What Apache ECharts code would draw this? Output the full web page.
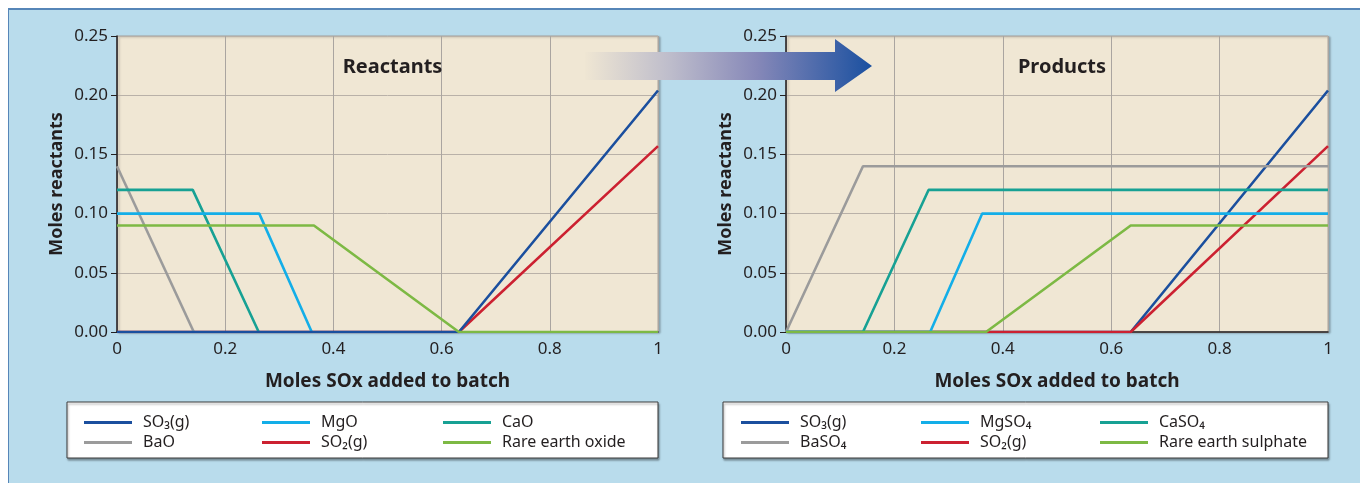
<!DOCTYPE html>
<html>
<head>
<meta charset="utf-8">
<script src="https://cdn.jsdelivr.net/npm/echarts@6/dist/echarts.min.js"></script>
<style>
html,body{margin:0;padding:0;background:#fff;}
#panel{position:absolute;left:8px;top:8px;width:1352px;height:475px;background:#b9dcec;border-top:2px solid #5686b8;border-left:1px solid #5686b8;box-sizing:border-box;}
#chart{position:absolute;left:0;top:0;width:1360px;height:483px;}
</style>
</head>
<body>
<div id="panel"></div>
<div id="chart"></div>
<script>
// ---- data ----
const xTicks = [0, 0.2, 0.4, 0.6, 0.8, 1];
const yTicks = ['0.00', '0.05', '0.10', '0.15', '0.20', '0.25'];

// Reactants (x = moles SOx added, y = moles)
const so3Reactants = [[0, 0], [0.632, 0], [1, 0.204]];
const so2Reactants = [[0, 0], [0.632, 0], [1, 0.157]];
const baoReactants = [[0, 0.140], [0.142, 0]];
const caoReactants = [[0, 0.120], [0.140, 0.120], [0.262, 0]];
const mgoReactants = [[0, 0.100], [0.263, 0.100], [0.360, 0]];
const reoReactants = [[0, 0.090], [0.364, 0.090], [0.632, 0], [1, 0]];

// Products
const so3Products = [[0, 0], [0.636, 0], [1, 0.204]];
const so2Products = [[0, 0], [0.636, 0], [1, 0.157]];
const baso4Products = [[0, 0], [0.142, 0.140], [1, 0.140]];
const caso4Products = [[0, 0], [0.142, 0], [0.263, 0.120], [1, 0.120]];
const mgso4Products = [[0, 0], [0.266, 0], [0.362, 0.100], [1, 0.100]];
const reso4Products = [[0, 0], [0.369, 0], [0.636, 0.090], [1, 0.090]];

const colors = {
  so3: '#1b4f9e', so2: '#cc2131', ba: '#9b9b9b', ca: '#17a194', mg: '#13aee8', re: '#7db944'
};

const FONT = 'Noto Sans';
const TXT = '#231f20';

function xAxis(gi) {
  return {
    type: 'value', gridIndex: gi, min: 0, max: 1, interval: 0.2,
    name: 'Moles SOx added to batch', nameLocation: 'middle', nameGap: 40,
    nameTextStyle: {fontFamily: FONT, fontWeight: 'bold', fontSize: 19, color: TXT},
    axisLine: {show: true, onZero: false, lineStyle: {color: '#231f20', width: 1.5}},
    axisTick: {show: false},
    axisLabel: {fontFamily: FONT, fontSize: 17, color: TXT, margin: 9},
    splitLine: {show: true, lineStyle: {color: '#aaa5a0', width: 1}}
  };
}
function yAxis(gi) {
  return {
    type: 'value', gridIndex: gi, min: 0, max: 0.25, interval: 0.05,
    name: 'Moles reactants', nameLocation: 'middle', nameGap: 51,
    nameTextStyle: {fontFamily: FONT, fontWeight: 'bold', fontSize: 18, color: TXT},
    axisLine: {show: true, lineStyle: {color: '#231f20', width: 1.5}},
    axisTick: {show: true, length: 6, lineStyle: {color: '#231f20'}},
    axisLabel: {fontFamily: FONT, fontSize: 17, color: TXT, margin: 9,
      formatter: v => yTicks[Math.round(v / 0.05)]},
    splitLine: {show: true, lineStyle: {color: '#b9b1a8', width: 1}}
  };
}
function line(name, data, color, gi) {
  return {
    type: 'line', name, data, xAxisIndex: gi, yAxisIndex: gi,
    showSymbol: false, symbol: 'none', animation: false,
    lineStyle: {color, width: 2.6}, itemStyle: {color}
  };
}
function legend(left, names) {
  return {
    orient: 'vertical', left, top: 414, padding: 0, itemWidth: 48, itemHeight: 3, itemGap: 3,
    icon: 'rect', z: 10, selectedMode: false,
    textStyle: {fontFamily: FONT, fontSize: 16, color: TXT, lineHeight: 17, padding: [0, 0, 0, 6]},
    data: names
  };
}

const chart = echarts.init(document.getElementById('chart'), null, {renderer: 'canvas'});
const gridStyle = {show: true, backgroundColor: '#f0e7d4', borderColor: '#a9a49e', borderWidth: 1,
  shadowColor: 'rgba(0,0,0,0.25)', shadowBlur: 2, shadowOffsetX: 2, shadowOffsetY: 1};

chart.setOption({
  animation: false,
  textStyle: {fontFamily: FONT},
  title: [
    {text: 'Reactants', left: 387.5, top: 52, textAlign: 'center',
      textStyle: {fontFamily: FONT, fontWeight: 'bold', fontSize: 20, color: TXT}},
    {text: 'Products', left: 1057, top: 52, textAlign: 'center',
      textStyle: {fontFamily: FONT, fontWeight: 'bold', fontSize: 20, color: TXT}}
  ],
  grid: [
    Object.assign({left: 117, top: 36, width: 541, height: 296}, gridStyle),
    Object.assign({left: 786, top: 36, width: 542, height: 296}, gridStyle)
  ],
  xAxis: [xAxis(0), xAxis(1)],
  yAxis: [yAxis(0), yAxis(1)],
  legend: [
    legend(84, ['SO₃(g)', 'BaO']),
    legend(262, ['MgO', 'SO₂(g)']),
    legend(443, ['CaO', 'Rare earth oxide']),
    legend(741, ['SO₃(g)', 'BaSO₄']),
    legend(921, ['MgSO₄', 'SO₂(g)']),
    legend(1100, ['CaSO₄', 'Rare earth sulphate'])
  ],
  graphic: [
    {type: 'rect', z: 1, shape: {x: 67, y: 402, width: 591, height: 56},
      style: {fill: '#fff', stroke: '#3a3a3a', lineWidth: 1, shadowColor: 'rgba(0,0,0,0.35)', shadowBlur: 2, shadowOffsetX: 1, shadowOffsetY: 2}},
    {type: 'rect', z: 1, shape: {x: 723, y: 402, width: 605, height: 56},
      style: {fill: '#fff', stroke: '#3a3a3a', lineWidth: 1, shadowColor: 'rgba(0,0,0,0.35)', shadowBlur: 2, shadowOffsetX: 1, shadowOffsetY: 2}},
    {type: 'polygon', z: 100,
      shape: {points: [[585, 52], [835, 52], [835, 39], [872, 66], [835, 92], [835, 80], [585, 80]]},
      style: {fill: {type: 'linear', x: 585, y: 0, x2: 872, y2: 0, global: true,
        colorStops: [{offset: 0, color: '#efe6d3'}, {offset: 0.3, color: '#bdbccb'},
          {offset: 0.6, color: '#8688b8'}, {offset: 1, color: '#1a50a0'}]}}}
  ],
  series: [
    line('SO₂(g)', so2Reactants, colors.so2, 0),
    line('BaO', baoReactants, colors.ba, 0),
    line('CaO', caoReactants, colors.ca, 0),
    line('MgO', mgoReactants, colors.mg, 0),
    line('SO₃(g)', so3Reactants, colors.so3, 0),
    line('Rare earth oxide', reoReactants, colors.re, 0),
    line('SO₃(g)', so3Products, colors.so3, 1),
    line('SO₂(g)', so2Products, colors.so2, 1),
    line('BaSO₄', baso4Products, colors.ba, 1),
    line('CaSO₄', caso4Products, colors.ca, 1),
    line('MgSO₄', mgso4Products, colors.mg, 1),
    line('Rare earth sulphate', reso4Products, colors.re, 1)
  ]
});
</script>
</body>
</html>
